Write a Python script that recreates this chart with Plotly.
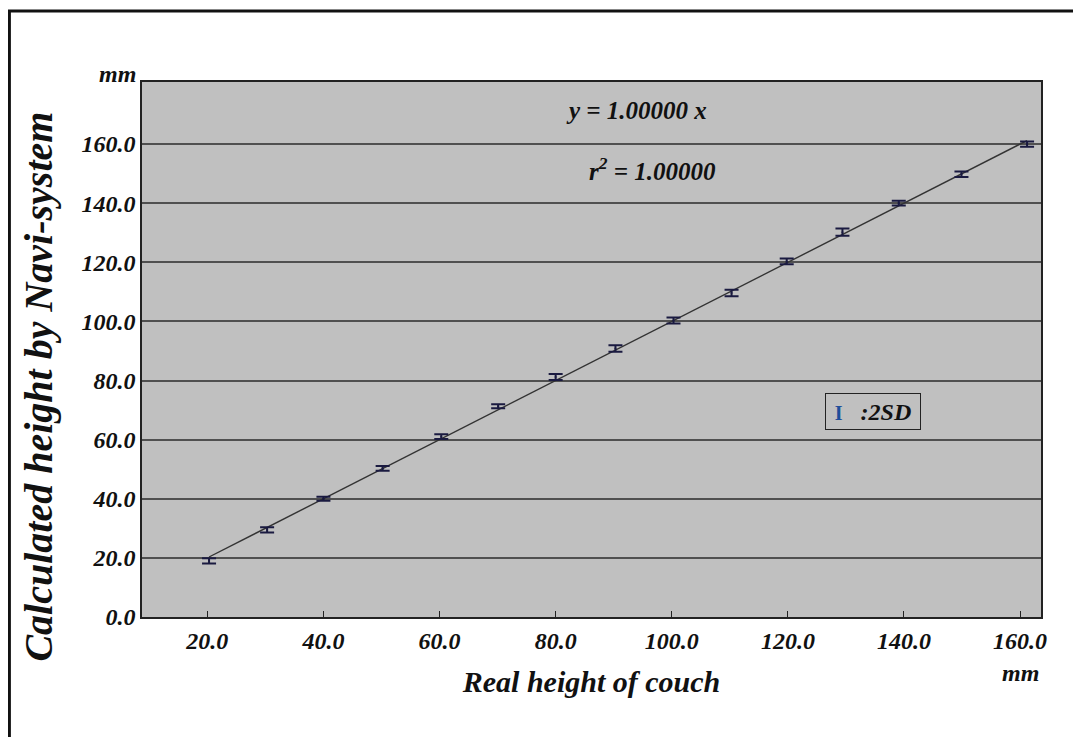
import plotly.graph_objects as go

# ---- data ----
real_height = [20.3, 30.3, 40.0, 50.2, 60.3, 70.1, 80.0, 90.3, 100.3, 110.3, 119.8, 129.4, 139.1, 149.9, 161.2]
calc_height = [19.0, 29.5, 40.0, 50.3, 61.0, 71.3, 81.2, 90.8, 100.3, 109.6, 120.3, 130.2, 140.0, 149.8, 160.0]
two_sd = [0.9, 0.9, 0.7, 0.8, 0.8, 0.7, 1.0, 1.1, 1.0, 1.1, 1.0, 1.2, 0.8, 0.9, 0.9]
fit_slope = 1.00000
fit_r2 = 1.00000
tick_values = [0, 20, 40, 60, 80, 100, 120, 140, 160]
x_tick_values = [20, 40, 60, 80, 100, 120, 140, 160]

FONT = "Liberation Serif"
TXT = "#111111"

fig = go.Figure()

# regression line y = slope * x
x_fit = [min(real_height), max(real_height)]
y_fit = [fit_slope * v for v in x_fit]
fig.add_trace(go.Scatter(x=x_fit, y=y_fit, mode="lines",
                         line=dict(color="#333333", width=1.4),
                         hoverinfo="skip", showlegend=False))

# measured points with 2SD error bars
fig.add_trace(go.Scatter(
    x=real_height, y=calc_height, mode="markers",
    marker=dict(size=2, color="#1a1a40"),
    error_y=dict(type="data", array=two_sd, visible=True,
                 color="#1a1a40", thickness=2, width=7),
    showlegend=False))

axis_font = dict(family=FONT, size=24, color=TXT, weight="bold", style="italic")

# the page body adds an 8px offset; figure size/margins compensate for it
fig.update_layout(
    width=1073, height=729,
    margin=dict(l=134, r=40, t=74, b=120),
    paper_bgcolor="white",
    plot_bgcolor="#c0c0c0",
    showlegend=False,
    xaxis=dict(
        range=[8.75, 163.6],
        tickvals=x_tick_values,
        ticktext=[f"{v:.1f}" for v in x_tick_values],
        tickfont=axis_font,
        ticks="inside", ticklen=6, tickwidth=1, tickcolor="#222",
        ticklabelstandoff=1,
        showgrid=False, zeroline=False,
        showline=True, linecolor="#222", linewidth=1.5, mirror=True,
        title=dict(text="Real height of couch",
                   font=dict(family=FONT, size=30, color=TXT, weight="bold", style="italic"),
                   standoff=18),
    ),
    yaxis=dict(
        range=[0, 181],
        tickvals=tick_values,
        ticktext=[f"{v:.1f}" for v in tick_values],
        tickfont=axis_font,
        ticks="", ticklabelstandoff=0,
        showgrid=True, gridcolor="#505050", gridwidth=1.6,
        zeroline=False,
        showline=True, linecolor="#222", linewidth=1.5, mirror=True,
    ),
)

# y-axis title (rotated annotation to match its offset)
fig.add_annotation(
    text="Calculated height by Navi-system", textangle=-90,
    xref="paper", yref="paper", x=-0.115, y=0.43,
    xanchor="center", yanchor="middle", showarrow=False,
    font=dict(family=FONT, size=40, color=TXT, weight="bold", style="italic"))

# unit labels
unit_font = dict(family=FONT, size=24, color=TXT, weight="bold", style="italic")
fig.add_annotation(text="mm", xref="paper", yref="paper", x=-0.005, y=1.015,
                   xanchor="right", yanchor="middle", showarrow=False, font=unit_font)
fig.add_annotation(text="mm", xref="paper", yref="paper", x=1.0, y=-0.105,
                   xanchor="right", yanchor="middle", showarrow=False, font=unit_font)

# regression equation
eq_font = dict(family=FONT, size=25, color=TXT, weight="bold", style="italic")
fig.add_annotation(text=f"y = {fit_slope:.5f} x", xref="paper", yref="paper",
                   x=0.5495, y=0.9458, xanchor="center", yanchor="middle",
                   showarrow=False, font=eq_font)
fig.add_annotation(text=f"r<sup>2</sup> = {fit_r2:.5f}", xref="paper", yref="paper",
                   x=0.568, y=0.8374, xanchor="center", yanchor="middle",
                   showarrow=False, font=eq_font)

# legend box for 2SD
fig.add_annotation(
    text="<span style='color:#1f4e9a;font-style:normal;font-weight:bold;font-size:20px'>I</span>   :2SD",
    xref="paper", yref="paper", x=0.813, y=0.385,
    xanchor="center", yanchor="middle", showarrow=False,
    width=90, height=31, align="center",
    bordercolor="#222", borderwidth=1, borderpad=2, bgcolor="#c0c0c0",
    font=dict(family=FONT, size=24, color=TXT, weight="bold", style="italic"))

# outer frame
fig.add_shape(type="rect", xref="paper", yref="paper",
              x0=-0.1475, x1=1.039, y0=-0.26, y1=1.1327,
              line=dict(color="#111", width=3), fillcolor="rgba(0,0,0,0)", layer="above")

fig.write_html("out.html")
